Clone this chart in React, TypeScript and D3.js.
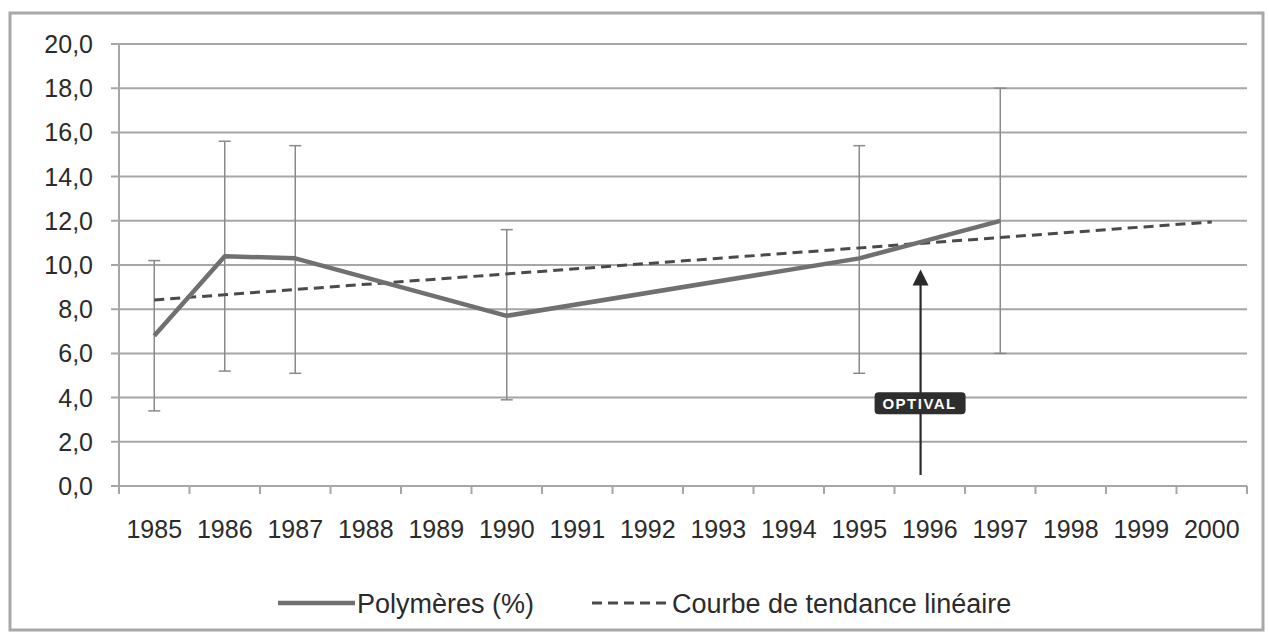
import React from "react";
import * as d3 from "d3";

const categories = ["1985","1986","1987","1988","1989","1990","1991","1992","1993","1994","1995","1996","1997","1998","1999","2000"];
const yTicks = [0, 2, 4, 6, 8, 10, 12, 14, 16, 18, 20];
const polyYears = ["1985","1986","1987","1990","1995","1997"];
const polyValues = [6.8, 10.4, 10.3, 7.7, 10.3, 12.0];
const errLow = [3.4, 5.2, 5.1, 3.9, 5.1, 6.0];
const errHigh = [10.2, 15.6, 15.4, 11.6, 15.4, 18.0];
const trendYears = ["1985", "2000"];
const trendValues = [8.42, 11.95];
const arrowX = 10.87; // index position between categories (1996 slightly left)
const arrowFrom = 0.5;
const arrowTo = 9.8;
const arrowLabelValue = 3.75;
const legendLabels = ["Polymères (%)", "Courbe de tendance linéaire"];

export default function App() {
  const W = 1269, H = 632;
  const left = 119, right = 1247, top = 44, bottom = 486;
  const x = d3.scaleBand().domain(categories).range([left, right]);
  const xc = (c: string) => (x(c) as number) + x.bandwidth() / 2;
  const xi = (i: number) => left + x.bandwidth() * (i + 0.5);
  const y = d3.scaleLinear().domain([0, 20]).range([bottom, top]);
  const line = d3.line<[number, number]>().x(d => d[0]).y(d => d[1]);
  const polyPts: [number, number][] = polyYears.map((c, i) => [xc(c), y(polyValues[i])]);
  const trendPts: [number, number][] = trendYears.map((c, i) => [xc(c), y(trendValues[i])]);
  const font = "'Liberation Sans', Arial, sans-serif";
  const ax = xi(arrowX);
  const grid = "#a6a6a6";
  return (
    <svg width={W} height={H} style={{ position: "absolute", left: 0, top: 0, background: "#fff" }}>
      <rect x={10} y={13} width={1253} height={617} fill="#fff" stroke="#a8a8a8" strokeWidth={3} />
      {yTicks.map(t => (
        <g key={t}>
          <line x1={left - 8} x2={right} y1={y(t)} y2={y(t)} stroke={grid} strokeWidth={2} />
          <text x={93} y={y(t)} dy="0.36em" textAnchor="end" fontFamily={font} fontSize={25} fill="#2b2b2b">
            {d3.format(".1f")(t).replace(".", ",")}
          </text>
        </g>
      ))}
      <line x1={left} x2={left} y1={top} y2={bottom} stroke={grid} strokeWidth={2} />
      {categories.map((c) => (
        <g key={c}>
          <line x1={x(c) as number} x2={x(c) as number} y1={bottom} y2={bottom + 8} stroke={grid} strokeWidth={2} />
          <text x={xc(c)} y={538} textAnchor="middle" fontFamily={font} fontSize={25} fill="#2b2b2b">{c}</text>
        </g>
      ))}
      <line x1={right} x2={right} y1={bottom} y2={bottom + 8} stroke={grid} strokeWidth={2} />
      {polyYears.map((c, i) => (
        <g key={c} stroke="#8a8a8a" strokeWidth={1.5}>
          <line x1={xc(c)} x2={xc(c)} y1={y(errLow[i])} y2={y(errHigh[i])} />
          <line x1={xc(c) - 6} x2={xc(c) + 6} y1={y(errLow[i])} y2={y(errLow[i])} />
          <line x1={xc(c) - 6} x2={xc(c) + 6} y1={y(errHigh[i])} y2={y(errHigh[i])} />
        </g>
      ))}
      <path d={line(trendPts) as string} fill="none" stroke="#4a4a4a" strokeWidth={3} strokeDasharray="10,6" />
      <path d={line(polyPts) as string} fill="none" stroke="#707070" strokeWidth={4.5} strokeLinejoin="round" />
      <line x1={ax} x2={ax} y1={y(arrowFrom)} y2={y(arrowTo) + 12} stroke="#2a2a2a" strokeWidth={2.2} />
      <path d={`M${ax},${y(arrowTo)} L${ax - 8},${y(arrowTo) + 16} L${ax + 8},${y(arrowTo) + 16} Z`} fill="#2a2a2a" />
      <rect x={ax - 46} y={y(arrowLabelValue) - 11} width={91} height={22} rx={4} fill="#2e2e2e" />
      <text x={ax - 1} y={y(arrowLabelValue)} dy="0.36em" textAnchor="middle" fontFamily={font} fontWeight="bold" fontSize={15} letterSpacing={1.5} fill="#fff">OPTIVAL</text>
      <g>
        <line x1={278} x2={355} y1={603} y2={603} stroke="#707070" strokeWidth={4.5} />
        <text x={357} y={613} fontFamily={font} fontSize={27} fill="#2b2b2b">{legendLabels[0]}</text>
        <line x1={592} x2={668} y1={603} y2={603} stroke="#4a4a4a" strokeWidth={3} strokeDasharray="10,6" />
        <text x={672} y={613} fontFamily={font} fontSize={27} fill="#2b2b2b">{legendLabels[1]}</text>
      </g>
    </svg>
  );
}
